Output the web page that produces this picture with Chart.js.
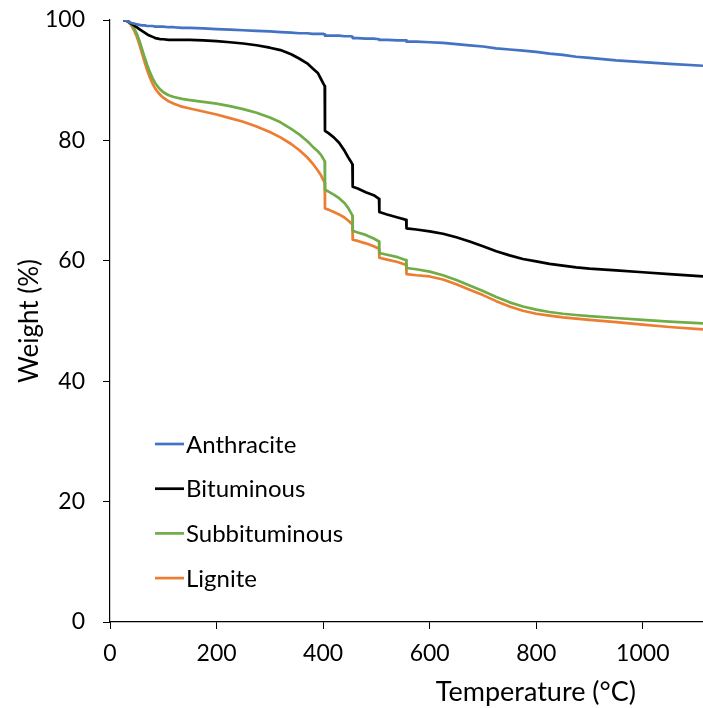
<!DOCTYPE html>
<html>
<head>
<meta charset="utf-8">
<script src="https://cdn.jsdelivr.net/npm/chart.js@4.4.1/dist/chart.umd.min.js"></script>
<style>
  html, body { margin: 0; padding: 0; background: #ffffff; }
  #wrap { width: 703px; height: 708px; position: relative; }
</style>
</head>
<body>
<div id="wrap"><canvas id="c" width="703" height="708"></canvas></div>
<script>
// Temperatures (°C) shared by all series (paired values at the step drops)
const temps = [25, 30, 35, 40, 45, 50, 55, 60, 65, 70, 75, 80, 85, 90, 95, 100, 110, 120, 135, 150, 175, 200, 225, 250, 275, 300, 320, 340, 355, 370, 380, 390, 396, 400, 403, 403.5, 410, 420, 430, 440, 447, 452, 455, 455.5, 465, 480, 495, 505, 505.5, 520, 540, 556, 556.5, 575, 600, 625, 650, 675, 700, 725, 750, 775, 800, 825, 850, 875, 900, 950, 1000, 1050, 1113];

const anthracite = [100, 99.9, 99.7, 99.5, 99.4, 99.3, 99.2, 99.1, 99.1, 99.0, 99.0, 99.0, 98.9, 98.9, 98.9, 98.9, 98.8, 98.8, 98.7, 98.7, 98.6, 98.5, 98.4, 98.3, 98.2, 98.1, 98.0, 97.9, 97.8, 97.8, 97.7, 97.7, 97.7, 97.7, 97.6, 97.4, 97.4, 97.4, 97.4, 97.3, 97.3, 97.3, 97.2, 97.0, 97.0, 96.9, 96.9, 96.8, 96.7, 96.7, 96.6, 96.6, 96.4, 96.4, 96.3, 96.2, 96.0, 95.8, 95.6, 95.3, 95.1, 94.9, 94.7, 94.4, 94.2, 93.9, 93.7, 93.3, 93.0, 92.7, 92.4];

const bituminous = [100, 99.9, 99.7, 99.4, 99.1, 98.8, 98.5, 98.2, 97.9, 97.6, 97.4, 97.2, 97.0, 96.9, 96.8, 96.8, 96.7, 96.7, 96.7, 96.7, 96.6, 96.5, 96.3, 96.1, 95.8, 95.4, 95.0, 94.3, 93.6, 92.8, 92.0, 91.2, 90.2, 89.5, 89.0, 81.6, 81.2, 80.5, 79.6, 78.3, 77.2, 76.5, 76.0, 72.3, 72.0, 71.4, 70.9, 70.3, 68.1, 67.7, 67.2, 66.8, 65.4, 65.2, 64.9, 64.5, 63.9, 63.2, 62.4, 61.6, 60.9, 60.3, 59.9, 59.5, 59.2, 58.9, 58.7, 58.4, 58.1, 57.8, 57.4];

const subbituminous = [100, 99.9, 99.7, 99.3, 98.7, 97.8, 96.6, 95.2, 93.8, 92.5, 91.3, 90.3, 89.5, 88.9, 88.4, 88.0, 87.5, 87.2, 86.9, 86.7, 86.4, 86.1, 85.7, 85.2, 84.6, 83.8, 83.0, 81.9, 81.0, 79.9, 79.0, 78.2, 77.6, 77.0, 76.5, 71.8, 71.5, 71.0, 70.4, 69.6, 68.8, 68.0, 67.5, 65.0, 64.7, 64.3, 63.7, 63.2, 61.3, 61.0, 60.6, 60.1, 58.8, 58.6, 58.2, 57.6, 56.8, 55.9, 55.0, 54.0, 53.1, 52.4, 51.9, 51.5, 51.2, 51.0, 50.8, 50.5, 50.2, 49.9, 49.6];

const lignite = [100, 99.9, 99.6, 99.1, 98.3, 97.3, 96.0, 94.5, 93.0, 91.6, 90.4, 89.4, 88.6, 88.0, 87.5, 87.1, 86.5, 86.1, 85.6, 85.3, 84.8, 84.3, 83.7, 83.1, 82.3, 81.4, 80.5, 79.4, 78.4, 77.2, 76.2, 75.0, 74.2, 73.5, 73.0, 68.7, 68.5, 68.1, 67.7, 67.2, 66.7, 66.3, 66.0, 63.5, 63.3, 62.9, 62.4, 62.0, 60.5, 60.2, 59.8, 59.3, 57.8, 57.6, 57.4, 56.9, 56.1, 55.2, 54.3, 53.3, 52.4, 51.7, 51.2, 50.9, 50.6, 50.4, 50.2, 49.8, 49.4, 49.0, 48.6];

const seriesNames = ['Anthracite', 'Bituminous', 'Subbituminous', 'Lignite'];
const seriesColors = ['#4472C4', '#000000', '#70AD47', '#ED7D31'];
const xTicks = [0, 200, 400, 600, 800, 1000];
const yTicks = [0, 20, 40, 60, 80, 100];
const xTitle = 'Temperature (°C)';
const yTitle = 'Weight (%)';

const FONT = 'Lato, "Open Sans", sans-serif';
const allSeries = [anthracite, bituminous, subbituminous, lignite];

const datasets = allSeries.map((vals, i) => ({
  label: seriesNames[i],
  data: temps.map((t, k) => ({ x: t, y: vals[k] })),
  borderColor: seriesColors[i],
  backgroundColor: seriesColors[i],
  borderWidth: 2.7,
  borderJoinStyle: 'round',
  pointRadius: 0,
  fill: false,
  tension: 0
}));

const insideLegend = {
  id: 'insideLegend',
  afterDraw(chart) {
    const ctx = chart.ctx;
    ctx.save();
    ctx.font = '24px ' + FONT;
    ctx.textBaseline = 'middle';
    ctx.textAlign = 'left';
    chart.data.datasets.forEach((ds, i) => {
      const y = 444 + i * 44.7;
      ctx.strokeStyle = ds.borderColor;
      ctx.lineWidth = 2.7;
      ctx.beginPath();
      ctx.moveTo(155, y);
      ctx.lineTo(184, y);
      ctx.stroke();
      ctx.fillStyle = '#000000';
      ctx.fillText(ds.label, 186, y + 1);
    });
    ctx.restore();
  }
};

const xTitlePlugin = {
  id: 'xTitlePlugin',
  afterDraw(chart) {
    const ctx = chart.ctx;
    ctx.save();
    ctx.font = '27px ' + FONT;
    ctx.fillStyle = '#000000';
    ctx.textAlign = 'right';
    ctx.textBaseline = 'middle';
    ctx.fillText(xTitle, 636, 692);
    ctx.restore();
  }
};

new Chart(document.getElementById('c'), {
  type: 'line',
  data: { datasets },
  options: {
    responsive: false,
    animation: false,
    layout: { padding: { top: 20, right: 0, bottom: 0, left: 0 } },
    plugins: {
      legend: { display: false },
      tooltip: { enabled: false }
    },
    scales: {
      x: {
        type: 'linear',
        min: 0,
        max: 1113,
        afterBuildTicks: (s) => { s.ticks = xTicks.map(v => ({ value: v })); },
        afterFit: (s) => { s.height = 86; s.paddingLeft = 0; s.paddingRight = 0; },
        ticks: { color: '#000000', font: { family: FONT, size: 23 }, padding: 11, maxRotation: 0, callback: (v) => String(v) },
        grid: { drawOnChartArea: false, drawTicks: true, tickLength: 7, color: '#000000', lineWidth: 1 },
        border: { display: true, color: '#000000', width: 1.2 },
        title: { display: false }
      },
      y: {
        type: 'linear',
        min: 0,
        max: 100,
        afterBuildTicks: (s) => { s.ticks = yTicks.map(v => ({ value: v })); },
        afterFit: (s) => { s.width = 110; s.paddingTop = 0; s.paddingBottom = 0; },
        ticks: { color: '#000000', font: { family: FONT, size: 23 }, padding: 18, callback: (v) => String(v) },
        grid: { drawOnChartArea: false, drawTicks: true, tickLength: 7, color: '#000000', lineWidth: 1 },
        border: { display: true, color: '#000000', width: 1.2 },
        title: { display: true, text: yTitle, color: '#000000', font: { family: FONT, size: 26 }, padding: { top: 14, bottom: 0 } }
      }
    }
  },
  plugins: [insideLegend, xTitlePlugin]
});
</script>
</body>
</html>
